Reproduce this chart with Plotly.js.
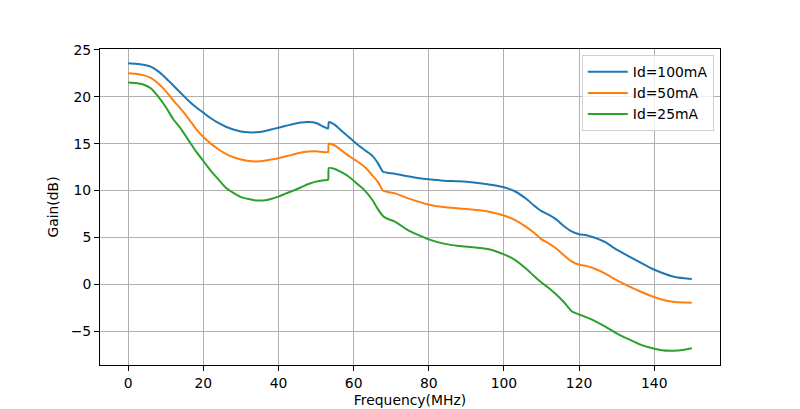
<!DOCTYPE html>
<html>
<head>
<meta charset="utf-8">
<script src="https://cdn.plot.ly/plotly-3.0.1.min.js"></script>
<style>html,body{margin:0;padding:0;background:#fff}#chart{width:800px;height:409px}</style>
</head>
<body>
<div id="chart"></div>
<script>
const freq = [0,2,4,6,8,10,12,14,16,18,20,22,24,26,28,30,32,34,36,38,40,42,44,46,48,50,52,53.2,53.4,55,57,59,61,63,65,66.5,67.8,69,71,74,77,80,84,88,92,96,100,103,106,108,110,112,114,116,118,120,122,124,127,130,133,136,139,142,145,148,150];
const id100 = [23.55,23.5,23.4,23.2,22.7,22.0,21.2,20.4,19.6,18.9,18.3,17.7,17.2,16.8,16.5,16.3,16.2,16.2,16.3,16.5,16.7,16.9,17.1,17.25,17.3,17.2,16.8,16.6,17.3,17.0,16.3,15.6,14.9,14.3,13.7,12.9,12.0,11.9,11.8,11.55,11.35,11.2,11.05,10.98,10.85,10.65,10.35,9.9,9.1,8.4,7.8,7.4,6.9,6.2,5.65,5.35,5.25,5.0,4.5,3.7,3.05,2.4,1.75,1.25,0.85,0.65,0.58];
const id50 = [22.5,22.45,22.3,22.0,21.4,20.6,19.6,18.7,17.7,16.6,15.7,15.0,14.4,13.9,13.55,13.3,13.15,13.1,13.15,13.3,13.45,13.65,13.85,14.05,14.15,14.2,14.1,14.1,15.0,14.8,14.2,13.6,13.1,12.5,11.6,10.9,10.0,9.85,9.7,9.25,8.85,8.5,8.25,8.1,7.95,7.75,7.35,6.85,6.1,5.5,4.8,4.35,3.8,3.1,2.45,2.1,1.95,1.7,1.15,0.45,-0.15,-0.7,-1.2,-1.6,-1.85,-1.93,-1.94];
const id25 = [21.5,21.45,21.3,20.9,20.0,18.9,17.6,16.6,15.4,14.2,13.15,12.1,11.2,10.3,9.75,9.3,9.1,8.95,8.95,9.1,9.35,9.7,10.0,10.35,10.7,10.95,11.1,11.15,12.4,12.3,11.9,11.4,10.7,10.0,9.0,8.0,7.3,7.0,6.7,5.9,5.3,4.8,4.35,4.1,3.95,3.75,3.2,2.6,1.65,0.9,0.2,-0.4,-1.1,-1.9,-2.85,-3.2,-3.5,-3.85,-4.5,-5.2,-5.8,-6.35,-6.75,-7.0,-7.05,-6.95,-6.8];
const names = ['Id=100mA','Id=50mA','Id=25mA'];
const colors = ['#1f77b4','#ff7f0e','#2ca02c'];
const xTicks = [0,20,40,60,80,100,120,140];
const yTicks = [-5,0,5,10,15,20,25];

const series = [id100, id50, id25];
const traces = series.map((ys,i)=>({x:freq,y:ys,type:'scatter',mode:'lines',name:names[i],line:{color:colors[i],width:2,shape:'spline',smoothing:0.5}}));

const fnt = {family:'DejaVu Sans, sans-serif', size:13.9, color:'#000'};
const axBase = {showline:true, linecolor:'#000', linewidth:1, mirror:true, ticks:'outside', ticklen:5, tickcolor:'#000', showgrid:true, gridcolor:'#b0b0b0', gridwidth:1, zeroline:false, tickfont:fnt};
const layout = {
  width:800, height:409,
  margin:{l:100, r:80, t:49, b:44},
  paper_bgcolor:'#fff', plot_bgcolor:'#fff',
  font:fnt,
  xaxis:Object.assign({}, axBase, {range:[-7.5,157.5], tickvals:xTicks, ticktext:xTicks.map(String), title:{text:'Frequency(MHz)', font:fnt, standoff:5}}),
  yaxis:Object.assign({}, axBase, {range:[-8.58,25.08], tickvals:yTicks, ticktext:yTicks.map(v=>v<0?'\u2212'+Math.abs(v):String(v)), title:{text:'Gain(dB)', font:fnt, standoff:8}}),
  legend:{x:0.99, y:0.98, xanchor:'right', yanchor:'top', bgcolor:'rgba(255,255,255,0.8)', bordercolor:'#d0d0d0', borderwidth:1, font:fnt, tracegroupgap:0, itemwidth:40},
  showlegend:true
};
Plotly.newPlot('chart', traces, layout, {staticPlot:true, displayModeBar:false});
</script>
</body>
</html>
